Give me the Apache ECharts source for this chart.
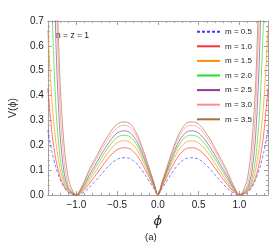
<!DOCTYPE html>
<html><head><meta charset="utf-8">
<script src="https://cdn.jsdelivr.net/npm/echarts@6/dist/echarts.min.js"></script>
<style>html,body{margin:0;padding:0;background:#fff}#c{width:273px;height:245px}</style>
</head><body><div id="c"></div>
<script>
// phi values for the right half (curves are symmetric about phi = 0)
const phiHalf = [0,0.05,0.1,0.15,0.2,0.25,0.3,0.35,0.4,0.45,0.5,0.55,0.6,0.65,0.7,0.75,0.8,0.85,0.9,0.95,1,1.05,1.1,1.15,1.2,1.25,1.3,1.35];
const legendNames = ['m = 0.5','m = 1.0','m = 1.5','m = 2.0','m = 2.5','m = 3.0','m = 3.5'];
const vM05 = [0,0.026,0.052,0.078,0.102,0.123,0.138,0.147,0.150,0.149,0.144,0.133,0.118,0.100,0.081,0.062,0.044,0.027,0.0135,0.004,0,0.002,0.011,0.030,0.063,0.11,0.175,0.26];
const vM10 = [0,0.033,0.066,0.099,0.129,0.156,0.175,0.187,0.190,0.189,0.182,0.169,0.152,0.131,0.108,0.085,0.063,0.042,0.023,0.008,0,0.004,0.014,0.036,0.074,0.14,0.253,0.43];
const vM15 = [0,0.038,0.076,0.113,0.148,0.179,0.200,0.214,0.218,0.217,0.210,0.195,0.176,0.153,0.127,0.102,0.077,0.052,0.029,0.0105,0,0.006,0.018,0.048,0.105,0.21,0.383,0.664];
const vM20 = [0,0.042,0.083,0.124,0.163,0.197,0.221,0.236,0.240,0.239,0.232,0.216,0.196,0.171,0.145,0.118,0.091,0.064,0.0365,0.014,0,0.008,0.022,0.062,0.15,0.35,0.754,null];
const vM25 = [0,0.045,0.090,0.134,0.175,0.211,0.237,0.253,0.258,0.257,0.249,0.233,0.212,0.187,0.160,0.131,0.103,0.075,0.043,0.017,0,0.010,0.029,0.090,0.245,0.61,1.39,null];
const vM30 = [0,0.049,0.097,0.145,0.190,0.229,0.257,0.275,0.280,0.279,0.271,0.254,0.232,0.206,0.177,0.147,0.118,0.087,0.051,0.021,0,0.013,0.042,0.135,0.355,0.82,null,null];
const vM35 = [0,0.051,0.101,0.152,0.199,0.240,0.270,0.289,0.294,0.293,0.285,0.268,0.245,0.219,0.189,0.158,0.128,0.096,0.057,0.0235,0,0.02,0.07,0.20,0.46,0.95,null,null];
const xMajor = [-1,-0.5,0,0.5,1];
const xMinor = [-1.3,-1.2,-1.1,-0.9,-0.8,-0.7,-0.6,-0.4,-0.3,-0.2,-0.1,0.1,0.2,0.3,0.4,0.6,0.7,0.8,0.9,1.1,1.2,1.3];

const values = [vM05,vM10,vM15,vM20,vM25,vM30,vM35];
const colors = ['#3a3aff','#ff3030','#ff8c00','#22e022','#8e3a8e','#ff8a8a','#a8703c'];
const frame = '#a0a0a0';

function mirror(vals){
  const pts = [];
  for (let i = phiHalf.length - 1; i >= 1; i--) pts.push([-phiHalf[i], vals[i]]);
  for (let i = 0; i < phiHalf.length; i++) pts.push([phiHalf[i], vals[i]]);
  return pts;
}
const fmt = v => (v < 0 ? '\u2212' : '') + Math.abs(v).toFixed(1);

function xAx(pos, ticks, len, labels, line){
  return {type:'value', min:-1.35, max:1.35, position:pos,
    axisLine:{show:line, onZero:false, lineStyle:{color:frame, width:1}},
    axisTick:{show:true, inside:true, length:len, customValues:ticks, lineStyle:{color:frame}},
    axisLabel:{show:labels, customValues:ticks, formatter:fmt, fontSize:10, color:'#222', margin:5, fontFamily:'Liberation Sans'},
    splitLine:{show:false},
    name: (labels ? '\u03d5' : ''), nameLocation:'middle', nameGap:19,
    nameTextStyle:{fontSize:13, fontStyle:'italic', color:'#222', fontFamily:'DejaVu Sans'}};
}
function yAx(pos, labels){
  return {type:'value', min:0, max:0.7, interval:0.1, position:pos,
    axisLine:{show:true, onZero:false, lineStyle:{color:frame, width:1}},
    axisTick:{show:true, inside:true, length:4, lineStyle:{color:frame}},
    minorTick:{show:true, splitNumber:5, length:2, lineStyle:{color:frame}},
    axisLabel:{show:labels, formatter:v=>v.toFixed(1), fontSize:10, color:'#222', margin:4, fontFamily:'Liberation Sans'},
    splitLine:{show:false},
    name:(labels ? 'V(\u03d5)' : ''), nameLocation:'middle', nameGap:21, nameRotate:90,
    nameTextStyle:{fontSize:10.5, color:'#222', fontFamily:'Liberation Sans'}};
}

const chart = echarts.init(document.getElementById('c'), null, {renderer:'canvas'});
chart.setOption({
  animation:false,
  backgroundColor:'#fff',
  grid:{left:33, right:5, top:21, bottom:50, containLabel:false},
  xAxis:[xAx('bottom', xMajor, 4, true, true), xAx('bottom', xMinor, 2, false, false),
         xAx('top', xMajor, 4, false, true), xAx('top', xMinor, 2, false, false)],
  yAxis:[yAx('left', true), yAx('right', false)],
  legend:{orient:'vertical', left:196, top:26.7, padding:0, itemWidth:23, itemHeight:10, itemGap:4.6,
    data:legendNames, textStyle:{fontSize:8, color:'#222', fontFamily:'Liberation Sans', lineHeight:10},
    lineStyle:{width:2, opacity:1}, itemStyle:{opacity:0}},
  graphic:[
    {type:'text', left:56, top:31.5, style:{text:'n = z = 1', fontSize:8.5, fill:'#222', fontFamily:'Liberation Sans'}},
    {type:'text', left:145, top:232, style:{text:'(a)', fontSize:9.5, fill:'#222', fontFamily:'Liberation Sans'}}
  ],
  series: values.map((v, i) => ({
    name: legendNames[i], type:'line', data: mirror(v), symbol:'none', showSymbol:false,
    smooth:0.3, clip:true, color: colors[i],
    lineStyle:{color:colors[i], width:1, opacity:0.65, type: i === 0 ? [3,2] : 'solid'}
  }))
});
</script></body></html>
